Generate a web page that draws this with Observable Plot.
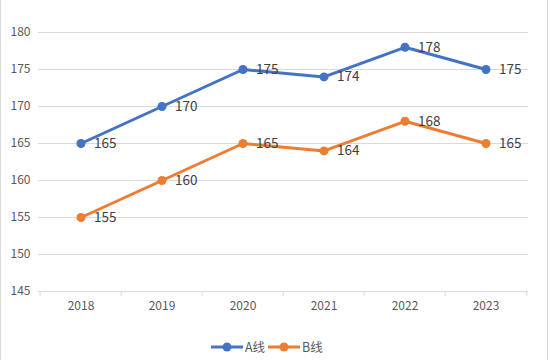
<!DOCTYPE html>
<html><head><meta charset="utf-8">
<script src="https://cdn.jsdelivr.net/npm/d3@7"></script>
<script src="https://cdn.jsdelivr.net/npm/@observablehq/plot@0.6"></script>
<style>
body{margin:0;background:#fff;font-family:"Noto Sans CJK SC","Noto Sans",sans-serif;}
#wrap{position:relative;width:550px;height:360px;overflow:hidden;}
#frame{position:absolute;left:0;top:-5px;width:546px;height:370px;border-left:1px solid #D9D9D9;border-right:1px solid #D9D9D9;pointer-events:none;}
#legend{position:absolute;left:211px;top:337px;display:flex;align-items:center;font-size:12.5px;color:#595959;}
#legend .item{display:flex;align-items:center;margin-right:3px;}
#legend svg{margin-right:2px;}
</style>
</head><body>
<div id="wrap"><div id="chart"></div><div id="legend"></div><div id="frame"></div></div>
<script>
const years = ["2018", "2019", "2020", "2021", "2022", "2023"];
const seriesA = [165, 170, 175, 174, 178, 175];
const seriesB = [155, 160, 165, 164, 168, 165];
const seriesNames = ["A线", "B线"];
const colors = ["#4472C4", "#ED7D31"];
const yTicks = [145, 150, 155, 160, 165, 170, 175, 180];

const rows = [
  ...years.map((y, i) => ({year: y, value: seriesA[i], series: seriesNames[0]})),
  ...years.map((y, i) => ({year: y, value: seriesB[i], series: seriesNames[1]}))
];

const W = 550, H = 320, ml = 38, mr = 22;
const bw = (W - ml - mr) / years.length;
const font = "'Noto Sans CJK SC','Noto Sans',sans-serif";

const chart = Plot.plot({
  width: W, height: H,
  marginTop: 32, marginBottom: 29, marginLeft: ml, marginRight: mr,
  style: {fontFamily: font, fontSize: "12px", color: "#595959", background: "transparent"},
  x: {type: "band", domain: years, padding: 0, label: null},
  y: {domain: [145, 180], ticks: yTicks, label: null},
  color: {domain: seriesNames, range: colors},
  marks: [
    Plot.ruleY(yTicks, {stroke: "#D9D9D9", strokeOpacity: 1}),
    Plot.ruleX(years, {x: d => d, y1: 145, y2: 145, dx: -bw / 2, insetBottom: -5, stroke: "#D9D9D9", strokeOpacity: 1}),
    Plot.ruleX([years[years.length - 1]], {x: d => d, y1: 145, y2: 145, dx: bw / 2, insetBottom: -5, stroke: "#D9D9D9", strokeOpacity: 1}),
    Plot.axisY({ticks: yTicks, tickSize: 0, tickPadding: 8, fontSize: 12, fill: "#595959", label: null}),
    Plot.axisX({tickSize: 0, tickPadding: 10, fontSize: 12, fill: "#595959", label: null}),
    Plot.line(rows, {x: "year", y: "value", z: "series", stroke: "series", strokeWidth: 3}),
    Plot.dot(rows, {x: "year", y: "value", fill: "series", r: 4.5, stroke: "none"}),
    Plot.text(rows, {x: "year", y: "value", text: d => String(d.value), textAnchor: "start", dx: 13, fontSize: 13.5, fill: "#404040"})
  ]
});
document.getElementById("chart").appendChild(chart);

const legend = document.getElementById("legend");
seriesNames.forEach((name, i) => {
  const item = document.createElement("div");
  item.className = "item";
  item.innerHTML = `<svg width="32" height="12"><line x1="0" y1="6" x2="32" y2="6" stroke="${colors[i]}" stroke-width="3"/><circle cx="16" cy="6" r="4.5" fill="${colors[i]}"/></svg><span>${name}</span>`;
  legend.appendChild(item);
});
</script>
</body></html>
